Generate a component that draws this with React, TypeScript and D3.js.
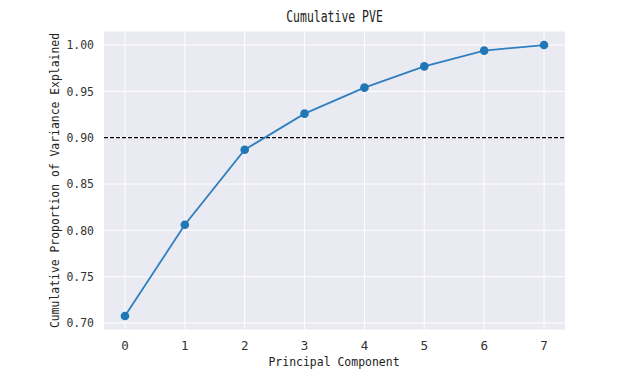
import React from "react";
import * as d3 from "d3";

const components = [0, 1, 2, 3, 4, 5, 6, 7];
const cumulativePVE = [0.7076, 0.806, 0.887, 0.926, 0.954, 0.977, 0.994, 1.0];
const yTicks = [0.7, 0.75, 0.8, 0.85, 0.9, 0.95, 1.0];
const threshold = 0.9;
const title = "Cumulative PVE";
const xLabel = "Principal Component";
const yLabel = "Cumulative Proportion of Variance Explained";

const W = 620;
const H = 388;
const left = 104;
const right = 565;
const top = 31.5;
const bottom = 329.5;
const CH = 6.9; // char width (narrow monospace look)
const FONT = "'DejaVu Sans Mono', 'Liberation Mono', monospace";

export default function App() {
  const x = d3.scaleLinear().domain([-0.35, 7.35]).range([left, right]);
  const yMin = 0.7076 - 0.05 * (1 - 0.7076);
  const yMax = 1.0 + 0.05 * (1 - 0.7076);
  const y = d3.scaleLinear().domain([yMin, yMax]).range([bottom, top]);
  const line = d3
    .line<number>()
    .x((_, i) => x(components[i]))
    .y((d) => y(d));

  return (
    <svg
      width={W}
      height={H}
      style={{ position: "absolute", left: 0, top: 0 }}
      fontFamily={FONT}
    >
      <rect x={0} y={0} width={W} height={H} fill="#ffffff" />
      <rect x={left} y={top} width={right - left} height={bottom - top} fill="#eaeaf2" />
      {components.map((c) => (
        <line key={"gx" + c} x1={x(c)} x2={x(c)} y1={top} y2={bottom} stroke="#ffffff" strokeWidth={1} />
      ))}
      {yTicks.map((t) => (
        <line key={"gy" + t} x1={left} x2={right} y1={y(t)} y2={y(t)} stroke="#ffffff" strokeWidth={1} />
      ))}
      <line
        x1={left}
        x2={right}
        y1={y(threshold)}
        y2={y(threshold)}
        stroke="#000000"
        strokeWidth={1.2}
        strokeDasharray="4,2"
      />
      <path d={line(cumulativePVE) || ""} fill="none" stroke="#2f7fc1" strokeWidth={1.8} />
      {cumulativePVE.map((v, i) => (
        <circle key={"p" + i} cx={x(components[i])} cy={y(v)} r={4.3} fill="#1f77b4" />
      ))}
      {yTicks.map((t) => {
        const s = t.toFixed(2);
        return (
          <text
            key={"ty" + t}
            x={94}
            y={y(t)}
            dy="0.35em"
            textAnchor="end"
            fontSize={12.5}
            fill="#333333"
            textLength={s.length * CH}
            lengthAdjust="spacingAndGlyphs"
          >
            {s}
          </text>
        );
      })}
      {components.map((c) => (
        <text
          key={"tx" + c}
          x={x(c)}
          y={346}
          dy="0.35em"
          textAnchor="middle"
          fontSize={12.5}
          fill="#333333"
        >
          {String(c)}
        </text>
      ))}
      <text
        x={(left + right) / 2}
        y={17}
        dy="0.35em"
        textAnchor="middle"
        fontSize={15}
        fill="#222222"
        textLength={title.length * CH}
        lengthAdjust="spacingAndGlyphs"
      >
        {title}
      </text>
      <text
        x={334}
        y={362}
        dy="0.35em"
        textAnchor="middle"
        fontSize={12.5}
        fill="#222222"
        textLength={xLabel.length * CH}
        lengthAdjust="spacingAndGlyphs"
      >
        {xLabel}
      </text>
      <text
        transform={`translate(55,${(top + bottom) / 2}) rotate(-90)`}
        dy="0.35em"
        textAnchor="middle"
        fontSize={12.5}
        fill="#222222"
        textLength={yLabel.length * 6.86}
        lengthAdjust="spacingAndGlyphs"
      >
        {yLabel}
      </text>
    </svg>
  );
}
